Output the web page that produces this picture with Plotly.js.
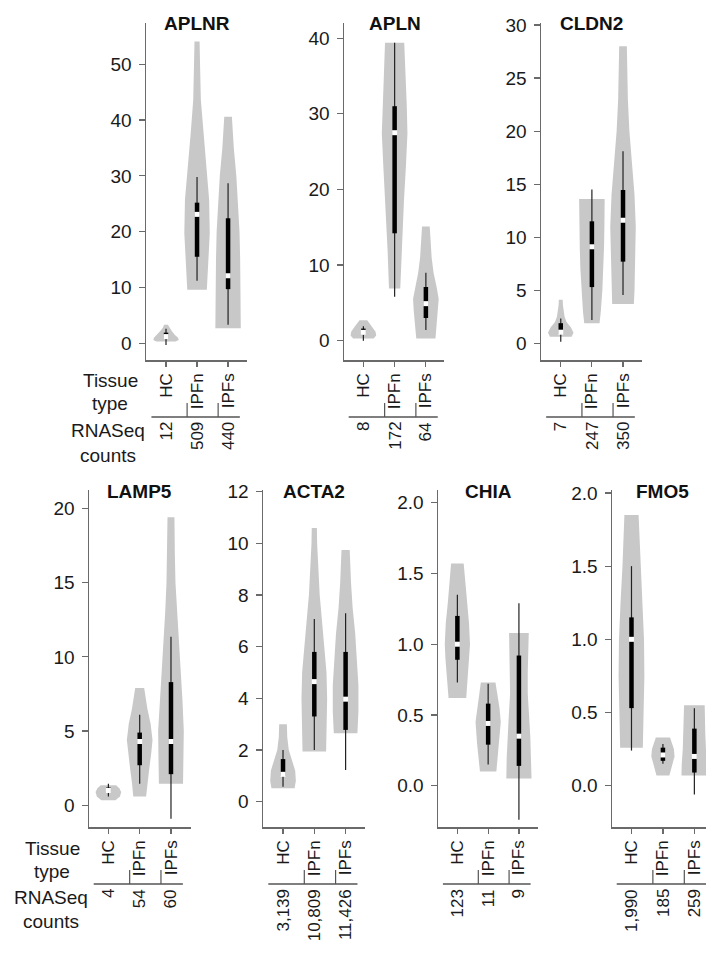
<!DOCTYPE html>
<html><head><meta charset="utf-8">
<script src="https://cdn.plot.ly/plotly-3.0.1.min.js"></script>
<style>html,body{margin:0;padding:0;background:#fff}#chart{width:706px;height:961px}</style>
</head><body><div id="chart"></div>
<script>
// ---------- DATA ----------
const genes = ["APLNR", "APLN", "CLDN2", "LAMP5", "ACTA2", "CHIA", "FMO5"];
const tissueTypes = ["HC", "IPFn", "IPFs"];
const rnaseqCounts = [
  ["12", "509", "440"],
  ["8", "172", "64"],
  ["7", "247", "350"],
  ["4", "54", "60"],
  ["3,139", "10,809", "11,426"],
  ["123", "11", "9"],
  ["1,990", "185", "259"]
];
const yTickVals = [
  [0, 10, 20, 30, 40, 50],
  [0, 10, 20, 30, 40],
  [0, 5, 10, 15, 20, 25, 30],
  [0, 5, 10, 15, 20],
  [0, 2, 4, 6, 8, 10, 12],
  [0, 0.5, 1, 1.5, 2],
  [0, 0.5, 1, 1.5, 2]
];
const yTickText = [
  ["0", "10", "20", "30", "40", "50"],
  ["0", "10", "20", "30", "40"],
  ["0", "5", "10", "15", "20", "25", "30"],
  ["0", "5", "10", "15", "20"],
  ["0", "2", "4", "6", "8", "10", "12"],
  ["0.0", "0.5", "1.0", "1.5", "2.0"],
  ["0.0", "0.5", "1.0", "1.5", "2.0"]
];
// violin outlines: expression levels and relative density (1 = widest), per gene, per tissue type
const violinLevels = [
  [[0.3, 0.6, 1.0, 1.5, 2.2, 2.8, 3.3], [9.6, 12, 15, 19.7, 25.7, 31.7, 37.6, 43.6, 49.6, 54.1], [2.7, 6, 10, 15, 20, 25, 30, 35, 40.6]],
  [[0.3, 0.7, 1.2, 1.8, 2.3, 2.7], [6.9, 12, 18.6, 23, 27.4, 31, 34, 37, 39.4], [0.3, 2, 4, 5.5, 7, 9, 11, 13, 15.1]],
  [[0.63, 1.0, 1.5, 2.0, 2.5, 3.0, 3.6, 4.1], [1.9, 3, 5, 7, 9, 11, 13, 13.6], [3.7, 5, 8, 11, 14, 17, 20, 23, 26, 28]],
  [[0.34, 0.6, 0.9, 1.15, 1.35], [0.6, 1.5, 2.5, 3.5, 4.4, 5.5, 6.5, 7.9], [1.46, 3, 5, 7, 9, 11, 13, 15, 17, 19.4]],
  [[0.52, 0.8, 1.2, 1.6, 2.0, 2.5, 3.0], [1.94, 3, 4, 5, 6, 7, 8, 9, 10, 10.6], [2.65, 3.5, 4.5, 5.5, 6.5, 7.5, 8.5, 9.75]],
  [[0.62, 0.75, 0.9, 1.0, 1.15, 1.3, 1.45, 1.57], [0.1, 0.2, 0.3, 0.45, 0.55, 0.65, 0.73], [0.05, 0.2, 0.35, 0.5, 0.65, 0.8, 0.95, 1.08]],
  [[0.26, 0.5, 0.75, 1.0, 1.25, 1.5, 1.7, 1.85], [0.07, 0.13, 0.2, 0.25, 0.3, 0.33], [0.07, 0.15, 0.25, 0.35, 0.45, 0.55]]
];
const violinDensity = [
  [[0.75, 1.0, 0.95, 0.7, 0.45, 0.25, 0.15], [0.77, 0.82, 0.9, 1.0, 0.95, 0.75, 0.5, 0.3, 0.24, 0.2], [1.0, 1.0, 0.97, 0.95, 0.9, 0.78, 0.65, 0.45, 0.3]],
  [[0.8, 1.0, 0.95, 0.7, 0.45, 0.3], [0.44, 0.55, 0.73, 0.88, 1.0, 0.95, 0.87, 0.8, 0.75], [0.75, 0.85, 0.95, 1.0, 0.85, 0.6, 0.45, 0.35, 0.3]],
  [[0.85, 1.0, 0.8, 0.45, 0.3, 0.22, 0.17, 0.15], [0.6, 0.7, 0.82, 0.9, 0.95, 0.98, 1.0, 1.0], [0.85, 0.9, 0.95, 1.0, 0.9, 0.7, 0.5, 0.38, 0.33, 0.3]],
  [[0.55, 0.9, 1.0, 0.85, 0.6], [0.5, 0.6, 0.75, 0.9, 1.0, 0.85, 0.6, 0.35], [0.94, 0.97, 1.0, 0.9, 0.75, 0.6, 0.45, 0.35, 0.3, 0.27]],
  [[0.9, 1.0, 0.95, 0.7, 0.45, 0.33, 0.3], [0.92, 0.96, 1.0, 0.95, 0.8, 0.6, 0.42, 0.3, 0.22, 0.2], [0.92, 1.0, 1.0, 0.9, 0.75, 0.55, 0.42, 0.32]],
  [[0.7, 0.8, 0.95, 1.0, 0.92, 0.75, 0.6, 0.5], [0.65, 0.75, 0.88, 1.0, 0.9, 0.7, 0.58], [1.0, 0.97, 0.9, 0.8, 0.7, 0.7, 0.75, 0.78]],
  [[0.88, 0.95, 1.0, 0.97, 0.85, 0.7, 0.6, 0.55], [0.5, 0.7, 0.9, 0.85, 0.65, 0.55], [1.0, 0.98, 0.9, 0.85, 0.82, 0.8]]
];
// box-plot summaries per gene [HC, IPFn, IPFs]
const whiskerLow = [[-0.3, 11.2, 3.3], [0, 5.8, 1.4], [0.15, 2.2, 4.55], [0.6, 1.45, -0.9], [0.58, 2.0, 1.23], [0.73, 0.15, -0.24], [0.24, 0.15, -0.06]];
const quartile1 = [[0.8, 15.5, 9.7], [0.8, 14.2, 3.0], [0.9, 5.3, 7.7], [0.85, 2.7, 2.1], [1.0, 3.3, 2.78], [0.89, 0.29, 0.14], [0.53, 0.17, 0.09]];
const medians = [[1.2, 23.1, 12.1], [1.1, 27.5, 4.9], [1.05, 9.1, 11.6], [1.0, 4.3, 4.3], [1.06, 4.65, 3.97], [1.0, 0.44, 0.35], [1.0, 0.21, 0.2]];
const quartile3 = [[1.9, 25.2, 22.4], [1.6, 31.0, 7.1], [1.9, 11.5, 14.45], [1.2, 4.9, 8.3], [1.65, 5.8, 5.8], [1.2, 0.58, 0.92], [1.15, 0.26, 0.39]];
const whiskerHigh = [[2.6, 29.8, 28.7], [1.9, 39.4, 9.0], [2.35, 14.5, 18.1], [1.45, 6.1, 11.35], [2.0, 7.07, 7.3], [1.35, 0.72, 1.29], [1.5, 0.285, 0.53]];

// ---------- LAYOUT (pixel geometry) ----------
const W = 706, H = 961;
const panelPx = [ // [left, right, top, bottom]
  [146, 247, 23, 360], [344, 444, 23, 360], [541, 642, 23, 360],
  [89, 191, 490, 827], [263, 365, 490, 827], [438, 538, 490, 827], [612, 706, 490, 827]
];
const xRanges = [[-0.645, 2.61], [-0.62, 2.58], [-0.635, 2.61], [-0.62, 2.64], [-0.64, 2.62], [-0.63, 2.62], [-0.62, 2.37]];
const yRanges = [[-3.0, 57.4], [-2.55, 42.0], [-1.57, 30.19], [-1.46, 21.24], [-0.98, 12.07], [-0.292, 2.09], [-0.282, 2.02]];
const titleY = [23.5, 23.5, 23.5, 491, 491, 491, 491];
const sepY = [417, 417, 417, 884, 884, 884, 884];
const HALF = 0.41;
const FONT = "Liberation Sans, Arial, Helvetica, sans-serif";
const py = v => 1 - v / H;

const traces = [];
const layout = {
  width: W, height: H, margin: {l: 0, r: 0, t: 0, b: 0},
  paper_bgcolor: "#fff", plot_bgcolor: "#fff", showlegend: false,
  font: {family: FONT, color: "#1a1a1a"},
  annotations: [], shapes: []
};

genes.forEach((g, i) => {
  const sfx = i === 0 ? "" : String(i + 1);
  const xa = "x" + sfx, ya = "y" + sfx;
  const p = panelPx[i];
  layout["xaxis" + sfx] = {
    domain: [p[0] / W, p[1] / W], range: xRanges[i], anchor: ya,
    tickvals: [0, 1, 2], ticktext: tissueTypes, tickangle: -90,
    ticks: "outside", ticklen: 5, tickwidth: 1.2, tickcolor: "#6a6a6a",
    showline: true, linecolor: "#6a6a6a", linewidth: 1.5,
    showgrid: false, zeroline: false, fixedrange: true,
    tickfont: {size: 17, family: FONT, color: "#1a1a1a"}
  };
  layout["yaxis" + sfx] = {
    domain: [py(p[3]), py(p[2])], range: yRanges[i], anchor: xa,
    tickvals: yTickVals[i], ticktext: yTickText[i],
    ticks: "outside", ticklen: 6, tickwidth: 1.2, tickcolor: "#6a6a6a",
    ticklabelstandoff: 3,
    showline: true, linecolor: "#6a6a6a", linewidth: 1.5,
    showgrid: false, zeroline: false, fixedrange: true,
    tickfont: {size: 19, family: FONT, color: "#1a1a1a"}
  };
  // title
  layout.annotations.push({
    text: "<b>" + g + "</b>", xref: xa, yref: "paper", x: 1, y: py(titleY[i]),
    xanchor: "center", yanchor: "middle", showarrow: false,
    font: {size: 19, family: FONT, color: "#111"}
  });
  // separator
  layout.shapes.push({type: "line", xref: xa, yref: "paper", x0: -0.47, x1: 2.38,
    y0: py(sepY[i]), y1: py(sepY[i]), line: {color: "#555", width: 1.4}});
  [1, 2].forEach(c => layout.shapes.push({type: "line", xref: xa, yref: "paper",
    x0: c - 0.32, x1: c - 0.32, y0: py(sepY[i] - 14), y1: py(sepY[i]), line: {color: "#555", width: 1.2}}));
  // counts
  rnaseqCounts[i].forEach((t, c) => layout.annotations.push({
    text: t, xref: xa, yref: "paper", x: c, y: py(sepY[i] + 3),
    xanchor: "center", yanchor: "top", textangle: -90, showarrow: false,
    font: {size: 17, family: FONT, color: "#1a1a1a"}
  }));

  tissueTypes.forEach((t, c) => {
    const lv = violinLevels[i][c], dn = violinDensity[i][c];
    const xs = [], ys = [];
    for (let k = 0; k < lv.length; k++) { xs.push(c + dn[k] * HALF); ys.push(lv[k]); }
    for (let k = lv.length - 1; k >= 0; k--) { xs.push(c - dn[k] * HALF); ys.push(lv[k]); }
    xs.push(xs[0]); ys.push(ys[0]);
    traces.push({type: "scatter", mode: "lines", x: xs, y: ys, xaxis: xa, yaxis: ya,
      fill: "toself", fillcolor: "#c8c8c8", line: {width: 0, color: "#c8c8c8"}, hoverinfo: "skip"});
    traces.push({type: "scatter", mode: "lines", x: [c, c], y: [whiskerLow[i][c], whiskerHigh[i][c]],
      xaxis: xa, yaxis: ya, line: {color: "#222", width: 1.2}, hoverinfo: "skip"});
    traces.push({type: "scatter", mode: "lines", x: [c, c], y: [quartile1[i][c], quartile3[i][c]],
      xaxis: xa, yaxis: ya, line: {color: "#000", width: 4.5}, hoverinfo: "skip"});
    traces.push({type: "scatter", mode: "markers", x: [c], y: [medians[i][c]],
      xaxis: xa, yaxis: ya, marker: {symbol: "square", size: 5, color: "#fff", line: {width: 0}}, hoverinfo: "skip"});
  });
});

// row labels
const rowLabels = [
  {t: "Tissue", x: 110, y: 380}, {t: "type", x: 110, y: 403},
  {t: "RNASeq", x: 108, y: 430}, {t: "counts", x: 108, y: 455},
  {t: "Tissue", x: 52, y: 848}, {t: "type", x: 52, y: 871},
  {t: "RNASeq", x: 51, y: 897}, {t: "counts", x: 51, y: 921}
];
rowLabels.forEach(r => layout.annotations.push({
  text: r.t, xref: "paper", yref: "paper", x: r.x / W, y: py(r.y),
  xanchor: "center", yanchor: "middle", showarrow: false,
  font: {size: 19, family: FONT, color: "#1a1a1a"}
}));

Plotly.newPlot("chart", traces, layout, {staticPlot: true, displayModeBar: false});
</script></body></html>
